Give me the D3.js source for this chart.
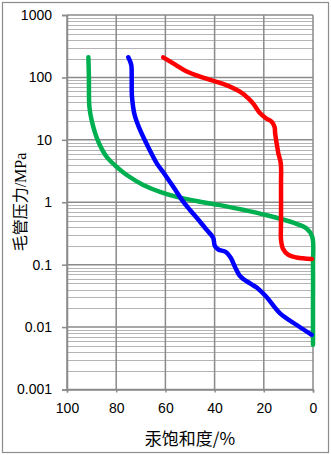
<!DOCTYPE html>
<html lang="zh">
<head>
<meta charset="UTF-8">
<title>毛管压力曲线</title>
<script src="https://d3js.org/d3.v7.min.js"></script>
<style>
  body { margin: 0; padding: 0; background: #fff; }
  svg { display: block; }
  .tick text { font-family: "Liberation Sans", Arial, sans-serif; font-size: 14px; fill: #000; }
  .axis-title { font-family: "Noto Sans CJK SC", sans-serif; fill: #000; }
  .curve { fill: none; stroke-width: 4.5px; stroke-linecap: round; stroke-linejoin: round; }
</style>
</head>
<body>
<svg id="chart" width="331" height="455"></svg>
<script>
// 汞饱和度 (%) 与 毛管压力 (MPa)
const greenSat = [91.3, 91.1, 90.9, 90.0, 87.7, 83.9, 79.1, 75.7, 69.0, 62.2, 55.4, 45.9, 37.8, 28, 18.8, 8, 2.6, 0.3, 0, 0, 0];
const greenPc  = [210, 100, 34, 20.7, 10.3, 5.36, 3.49, 2.73, 1.89, 1.47, 1.22, 1.02, 0.9, 0.75, 0.62, 0.47, 0.38, 0.28, 0.1, 0.02, 0.0052];

const blueSat = [75.1, 73.9, 73.7, 73.6, 72.5, 70.3, 66.5, 63.5, 60.8, 56.8, 53, 50, 46.5, 43.2, 40.6, 39.9, 38.5, 35.5, 33.5, 31.7, 29.7, 25.6, 22.9, 18.8, 13.4, 6.6, 0.5];
const bluePc  = [210, 160, 100, 50, 25, 14.4, 7, 4.2, 3.0, 1.77, 1.05, 0.75, 0.52, 0.36, 0.27, 0.2, 0.175, 0.16, 0.13, 0.092, 0.066, 0.05, 0.043, 0.03, 0.0166, 0.0108, 0.0075];

const redSat = [60.9, 56, 51.3, 45, 39.2, 34, 29.7, 26.5, 24.3, 21.5, 19, 16.8, 15.6, 15.4, 14.6, 14.1, 13.1, 13.0, 13.0, 13.0, 12.2, 10, 6.6, 0.5];
const redPc  = [210, 160, 124, 100, 85, 72, 59, 47, 38, 26.6, 22, 19.5, 16, 12.7, 8, 6.1, 4.2, 2, 0.5, 0.25, 0.18, 0.143, 0.13, 0.123];

const xTicks = [100, 80, 60, 40, 20, 0];
const yTicks = [1000, 100, 10, 1, 0.1, 0.01, 0.001];

const series = [
  { name: "green", color: "#00B050", sat: greenSat, pc: greenPc },
  { name: "blue",  color: "#0000FF", sat: blueSat,  pc: bluePc },
  { name: "red",   color: "#FF0000", sat: redSat,   pc: redPc }
];

const margin = { top: 15, right: 18, bottom: 65.5, left: 67 };
const W = 331, H = 455;
const width = W - margin.left - margin.right;
const height = H - margin.top - margin.bottom;

const svg = d3.select("#chart");

// outer frame
svg.append("rect")
  .attr("x", 2.5).attr("y", 2.5)
  .attr("width", W - 5).attr("height", H - 5)
  .attr("fill", "#fff").attr("stroke", "#8c8c8c").attr("stroke-width", 1.2);

const g = svg.append("g").attr("transform", `translate(${margin.left},${margin.top})`);

const x = d3.scaleLinear().domain([100, 0]).range([0, width]);
const y = d3.scaleLog().domain([0.001, 1000]).range([height, 0]);

// minor horizontal grid
g.append("g").selectAll("line")
  .data(y.ticks().filter(v => !yTicks.some(t => Math.abs(t - v) / t < 1e-9)))
  .enter().append("line")
  .attr("x1", 0).attr("x2", width)
  .attr("y1", d => Math.round(y(d)) + 0.5).attr("y2", d => Math.round(y(d)) + 0.5)
  .attr("stroke", "#b4b4b4").attr("stroke-width", 1);

// major grid
g.append("g").selectAll("line")
  .data(yTicks)
  .enter().append("line")
  .attr("x1", 0).attr("x2", width)
  .attr("y1", d => y(d)).attr("y2", d => y(d))
  .attr("stroke", "#8a8a8a").attr("stroke-width", 1.5);

g.append("g").selectAll("line")
  .data(xTicks)
  .enter().append("line")
  .attr("x1", d => x(d)).attr("x2", d => x(d))
  .attr("y1", 0).attr("y2", height)
  .attr("stroke", "#8a8a8a").attr("stroke-width", 1.5);

// axes
const yAxis = g.append("g")
  .call(d3.axisLeft(y).tickValues(yTicks).tickFormat(d => String(d)).tickSize(5).tickPadding(10));
const xAxis = g.append("g")
  .attr("transform", `translate(0,${height})`)
  .call(d3.axisBottom(x).tickValues(xTicks).tickFormat(d3.format("d")).tickSize(3).tickPadding(11));
[yAxis, xAxis].forEach(a => {
  a.select(".domain").attr("stroke", "#8a8a8a").attr("stroke-width", 1.5);
  a.selectAll(".tick line").attr("stroke", "#8a8a8a").attr("stroke-width", 1.5);
  a.attr("font-family", null).attr("font-size", null);
});

// curves
const line = d3.line()
  .x(d => x(d[0]))
  .y(d => y(d[1]))
  .curve(d3.curveCatmullRom.alpha(0.5));

series.forEach(s => {
  const pts = s.sat.map((v, i) => [v, s.pc[i]]);
  g.append("path")
    .datum(pts)
    .attr("class", "curve")
    .attr("stroke", s.color)
    .attr("d", line);
});

// axis titles
svg.append("text")
  .attr("class", "axis-title")
  .attr("transform", "translate(26,202) rotate(-90)")
  .attr("text-anchor", "middle")
  .attr("font-size", 16)
  .html('毛管压力<tspan font-family="Liberation Serif">/MPa</tspan>');

svg.append("text")
  .attr("class", "axis-title")
  .attr("x", 190).attr("y", 445)
  .attr("text-anchor", "middle")
  .attr("font-size", 17)
  .text("汞饱和度/%");
</script>
</body>
</html>
